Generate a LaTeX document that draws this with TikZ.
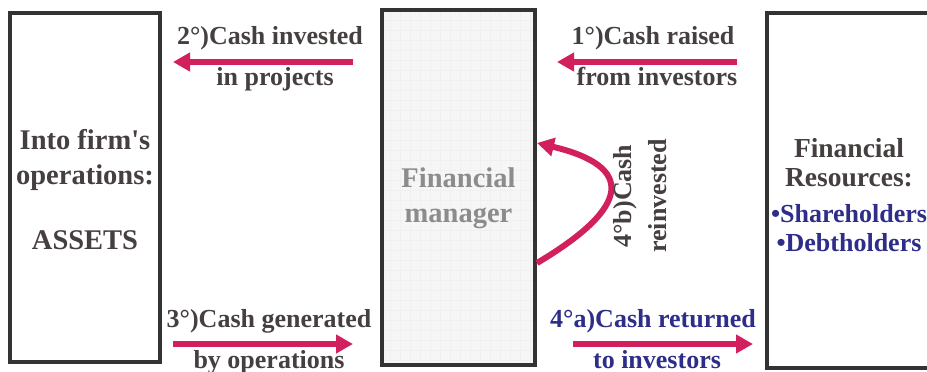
\documentclass[tikz,border=0pt]{standalone}
\usepackage{fontspec}
\setmainfont{Liberation Serif}
\usetikzlibrary{arrows.meta}

\definecolor{inkgray}{HTML}{463F3F}
\definecolor{flowred}{HTML}{D21F5E}
\definecolor{holderblue}{HTML}{2E2E8A}
\definecolor{frame}{HTML}{333333}

\begin{document}
\begin{tikzpicture}[x=1pt, y=-1pt,
    panel/.style={draw=frame, line width=4pt, minimum width=150pt,
      minimum height=349pt, fill=white},
    big/.style={font=\bfseries\fontsize{28.5}{35}\selectfont, text=inkgray,
      align=center},
    tag/.style={font=\bfseries\fontsize{26}{35}\selectfont, text=inkgray,
      anchor=base},
    flow/.style={-{Triangle[length=17pt, width=18pt]}, draw=flowred,
      line width=6pt}
  ]
    \useasboundingbox (0,0) rectangle (927,372);

    % the three panels
    \node[panel] (assets) at (85,187.5) {};
    \node[panel, minimum width=153pt, minimum height=355pt,
      fill={rgb,255:red,246;green,246;blue,246}] (mgr) at (458.5,187.5) {};
    \node[panel, minimum width=170pt, minimum height=355pt] (fin) at (852,190.5) {};
    \draw[black!6, line width=0.4pt, step=10pt]
      ([shift={(3pt,3pt)}]mgr.south west) grid ([shift={(-3pt,-3pt)}]mgr.north east);
    \draw[frame, line width=4pt] (mgr.north west) ++(2pt,-2pt) rectangle
      ([shift={(-2pt,2pt)}]mgr.south east);

    \node[big] (assetstext) at (85,190)
      {Into firm\textquotesingle s\\operations:\\[30pt]ASSETS};
    \node[big, text=black!45] (mgrtext) at (458.5,198) {Financial\\manager};
    \node[big, font=\bfseries\fontsize{27.5}{29}\selectfont] (fintext) at (849,195)
      {Financial\\Resources:\\[7pt]
       \color{holderblue}\fontsize{26}{29}\selectfont •Shareholders\\
       \color{holderblue}\fontsize{26}{29}\selectfont •Debtholders};

    \coordinate (toprow) at (0,62);
    \coordinate (botrow) at (0,344);
    \coordinate (loopin) at (0,263);
    \coordinate (loopout) at (0,143);

    % cash flows between the panels
    \draw[flow, shorten <=27pt, shorten >=11pt] (mgr.west |- toprow) -- (assets.east |- toprow)
      node[tag, midway, xshift=-1pt, yshift=17pt] {2°)Cash invested}
      node[tag, midway, xshift=4pt, yshift=-23pt] {in projects};
    \draw[flow, shorten <=28pt, shorten >=20pt] (fin.west |- toprow) -- (mgr.east |- toprow)
      node[tag, midway, xshift=2pt, yshift=17pt] {1°)Cash raised}
      node[tag, midway, xshift=6pt, yshift=-23pt] {from investors};
    \draw[flow, shorten <=11pt, shorten >=27pt] (assets.east |- botrow) -- (mgr.west |- botrow)
      node[tag, midway, xshift=-2pt, yshift=17pt] {3°)Cash generated}
      node[tag, midway, xshift=-2pt, yshift=-24pt] {by operations};
    \draw[flow, shorten <=36pt, shorten >=12pt] (mgr.east |- botrow) -- (fin.west |- botrow)
      node[tag, midway, xshift=2pt, yshift=17pt, text=holderblue] {4°a)Cash returned}
      node[tag, midway, xshift=6pt, yshift=-24pt, text=holderblue] {to investors};
    \draw[flow] (mgr.east |- loopin) .. controls (633,206) and (634,166) .. (mgr.east |- loopout);
    \node[tag, anchor=center, rotate=90, align=center] (looptext) at (640,196)
      {4°b)Cash\\reinvested};
  \end{tikzpicture}
\end{document}
